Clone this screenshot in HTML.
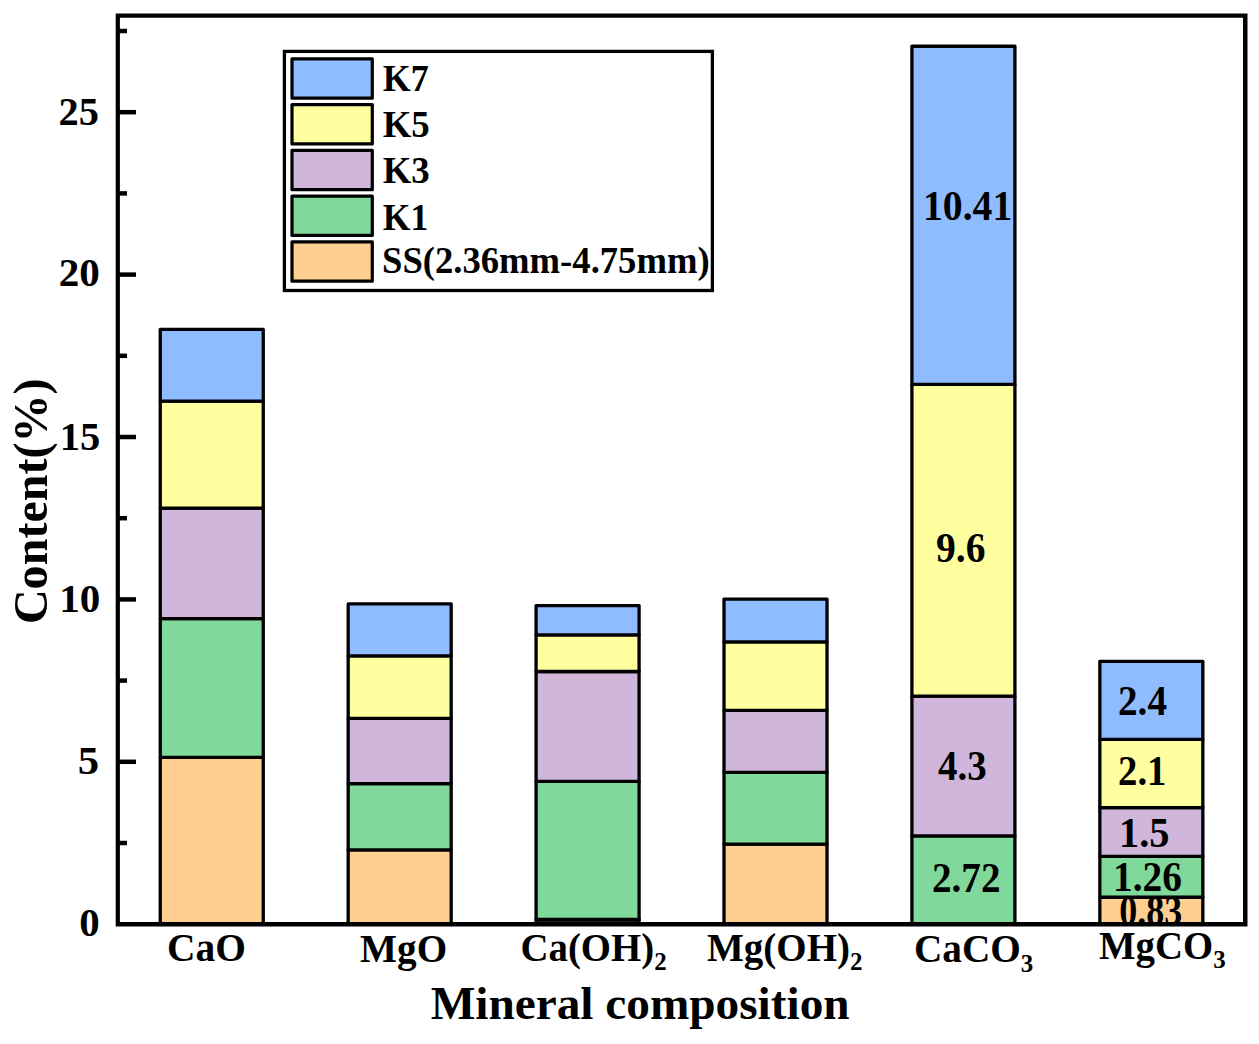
<!DOCTYPE html><html><head><meta charset="utf-8"><style>html,body{margin:0;padding:0;background:#fff;overflow:hidden;}svg{display:block;}text{font-family:"Liberation Serif",serif;font-weight:bold;fill:#000;}</style></head><body>
<svg width="1259" height="1044" viewBox="0 0 1259 1044">
<rect x="0" y="0" width="1259" height="1044" fill="#fff"/>
<rect x="160.26" y="757.42" width="103.00" height="166.78" fill="#FFCF91" stroke="#000" stroke-width="3.3" stroke-linejoin="round"/>
<rect x="160.26" y="618.56" width="103.00" height="138.85" fill="#80D99B" stroke="#000" stroke-width="3.3" stroke-linejoin="round"/>
<rect x="160.26" y="508.13" width="103.00" height="110.43" fill="#CFB6DA" stroke="#000" stroke-width="3.3" stroke-linejoin="round"/>
<rect x="160.26" y="401.11" width="103.00" height="107.02" fill="#FFFFA0" stroke="#000" stroke-width="3.3" stroke-linejoin="round"/>
<rect x="160.26" y="329.33" width="103.00" height="71.78" fill="#8EBCFF" stroke="#000" stroke-width="3.3" stroke-linejoin="round"/>
<rect x="348.18" y="849.82" width="103.00" height="74.38" fill="#FFCF91" stroke="#000" stroke-width="3.3" stroke-linejoin="round"/>
<rect x="348.18" y="783.72" width="103.00" height="66.10" fill="#80D99B" stroke="#000" stroke-width="3.3" stroke-linejoin="round"/>
<rect x="348.18" y="718.44" width="103.00" height="65.28" fill="#CFB6DA" stroke="#000" stroke-width="3.3" stroke-linejoin="round"/>
<rect x="348.18" y="655.92" width="103.00" height="62.52" fill="#FFFFA0" stroke="#000" stroke-width="3.3" stroke-linejoin="round"/>
<rect x="348.18" y="603.95" width="103.00" height="51.97" fill="#8EBCFF" stroke="#000" stroke-width="3.3" stroke-linejoin="round"/>
<rect x="536.09" y="919.33" width="103.00" height="4.87" fill="#2e1d12" stroke="#000" stroke-width="3.3" stroke-linejoin="round"/>
<rect x="536.09" y="781.45" width="103.00" height="137.88" fill="#80D99B" stroke="#000" stroke-width="3.3" stroke-linejoin="round"/>
<rect x="536.09" y="671.51" width="103.00" height="109.94" fill="#CFB6DA" stroke="#000" stroke-width="3.3" stroke-linejoin="round"/>
<rect x="536.09" y="634.80" width="103.00" height="36.70" fill="#FFFFA0" stroke="#000" stroke-width="3.3" stroke-linejoin="round"/>
<rect x="536.09" y="605.57" width="103.00" height="29.23" fill="#8EBCFF" stroke="#000" stroke-width="3.3" stroke-linejoin="round"/>
<rect x="724.01" y="844.14" width="103.00" height="80.06" fill="#FFCF91" stroke="#000" stroke-width="3.3" stroke-linejoin="round"/>
<rect x="724.01" y="772.36" width="103.00" height="71.78" fill="#80D99B" stroke="#000" stroke-width="3.3" stroke-linejoin="round"/>
<rect x="724.01" y="710.32" width="103.00" height="62.04" fill="#CFB6DA" stroke="#000" stroke-width="3.3" stroke-linejoin="round"/>
<rect x="724.01" y="641.95" width="103.00" height="68.37" fill="#FFFFA0" stroke="#000" stroke-width="3.3" stroke-linejoin="round"/>
<rect x="724.01" y="599.08" width="103.00" height="42.87" fill="#8EBCFF" stroke="#000" stroke-width="3.3" stroke-linejoin="round"/>
<rect x="911.92" y="835.85" width="103.00" height="88.35" fill="#80D99B" stroke="#000" stroke-width="3.3" stroke-linejoin="round"/>
<rect x="911.92" y="696.19" width="103.00" height="139.66" fill="#CFB6DA" stroke="#000" stroke-width="3.3" stroke-linejoin="round"/>
<rect x="911.92" y="384.38" width="103.00" height="311.81" fill="#FFFFA0" stroke="#000" stroke-width="3.3" stroke-linejoin="round"/>
<rect x="911.92" y="46.27" width="103.00" height="338.12" fill="#8EBCFF" stroke="#000" stroke-width="3.3" stroke-linejoin="round"/>
<rect x="1099.84" y="897.24" width="103.00" height="26.96" fill="#FFCF91" stroke="#000" stroke-width="3.3" stroke-linejoin="round"/>
<rect x="1099.84" y="856.32" width="103.00" height="40.92" fill="#80D99B" stroke="#000" stroke-width="3.3" stroke-linejoin="round"/>
<rect x="1099.84" y="807.60" width="103.00" height="48.72" fill="#CFB6DA" stroke="#000" stroke-width="3.3" stroke-linejoin="round"/>
<rect x="1099.84" y="739.39" width="103.00" height="68.21" fill="#FFFFA0" stroke="#000" stroke-width="3.3" stroke-linejoin="round"/>
<rect x="1099.84" y="661.44" width="103.00" height="77.95" fill="#8EBCFF" stroke="#000" stroke-width="3.3" stroke-linejoin="round"/>
<text id="bl0" x="923.03" y="220.15" font-size="41.80" textLength="89.23" lengthAdjust="spacingAndGlyphs">10.41</text>
<text id="bl1" x="936.01" y="562.45" font-size="41.80" textLength="49.49" lengthAdjust="spacingAndGlyphs">9.6</text>
<text id="bl2" x="938.01" y="780.40" font-size="41.80" textLength="48.58" lengthAdjust="spacingAndGlyphs">4.3</text>
<text id="bl3" x="932.04" y="892.40" font-size="41.80" textLength="68.43" lengthAdjust="spacingAndGlyphs">2.72</text>
<text id="bl4" x="1118.02" y="715.40" font-size="41.80" textLength="48.98" lengthAdjust="spacingAndGlyphs">2.4</text>
<text id="bl5" x="1118.04" y="785.20" font-size="41.80" textLength="48.41" lengthAdjust="spacingAndGlyphs">2.1</text>
<text id="bl6" x="1118.96" y="846.95" font-size="41.80" textLength="50.48" lengthAdjust="spacingAndGlyphs">1.5</text>
<text id="bl7" x="1113.01" y="891.15" font-size="41.80" textLength="68.89" lengthAdjust="spacingAndGlyphs">1.26</text>
<text id="bl8" x="1119.22" y="924.90" font-size="41.80" textLength="62.91" lengthAdjust="spacingAndGlyphs">0.83</text>
<path fill="#000" fill-rule="evenodd" d="M115.7 13.4 H1247.5 V926.6 H115.7 Z M119.9 17.8 V922.0 H1243.0 V17.8 Z"/>
<line x1="117.8" y1="761.80" x2="136" y2="761.80" stroke="#000" stroke-width="4.5"/>
<line x1="117.8" y1="599.40" x2="136" y2="599.40" stroke="#000" stroke-width="4.5"/>
<line x1="117.8" y1="437.00" x2="136" y2="437.00" stroke="#000" stroke-width="4.5"/>
<line x1="117.8" y1="274.60" x2="136" y2="274.60" stroke="#000" stroke-width="4.5"/>
<line x1="117.8" y1="112.20" x2="136" y2="112.20" stroke="#000" stroke-width="4.5"/>
<line x1="117.8" y1="843.00" x2="127" y2="843.00" stroke="#000" stroke-width="4.5"/>
<line x1="117.8" y1="680.60" x2="127" y2="680.60" stroke="#000" stroke-width="4.5"/>
<line x1="117.8" y1="518.20" x2="127" y2="518.20" stroke="#000" stroke-width="4.5"/>
<line x1="117.8" y1="355.80" x2="127" y2="355.80" stroke="#000" stroke-width="4.5"/>
<line x1="117.8" y1="193.40" x2="127" y2="193.40" stroke="#000" stroke-width="4.5"/>
<line x1="117.8" y1="31.00" x2="127" y2="31.00" stroke="#000" stroke-width="4.5"/>
<text id="t0" x="79.17" y="936.25" font-size="39.00" textLength="20.48" lengthAdjust="spacingAndGlyphs">0</text>
<text id="t5" x="77.75" y="773.60" font-size="39.00" textLength="21.34" lengthAdjust="spacingAndGlyphs">5</text>
<text id="t10" x="59.22" y="611.55" font-size="39.00" textLength="41.06" lengthAdjust="spacingAndGlyphs">10</text>
<text id="t15" x="59.69" y="449.75" font-size="39.00" textLength="40.56" lengthAdjust="spacingAndGlyphs">15</text>
<text id="t20" x="58.72" y="286.40" font-size="39.00" textLength="41.08" lengthAdjust="spacingAndGlyphs">20</text>
<text id="t25" x="58.46" y="124.85" font-size="39.00" textLength="40.39" lengthAdjust="spacingAndGlyphs">25</text>
<text id="xCaO" x="167.12" y="961.10" font-size="40.00" textLength="78.85" lengthAdjust="spacingAndGlyphs">CaO</text>
<text id="xMgO" x="360.08" y="962.25" font-size="40.00" textLength="87.02" lengthAdjust="spacingAndGlyphs">MgO</text>
<text id="xCaOH" x="520.50" y="960.50" font-size="40.00"><tspan font-size="40.00" textLength="133.67" lengthAdjust="spacingAndGlyphs">Ca(OH)</tspan><tspan font-size="25.00" dy="9.50">2</tspan></text>
<text id="xMgOH" x="707.00" y="960.50" font-size="40.00"><tspan font-size="40.00" textLength="142.98" lengthAdjust="spacingAndGlyphs">Mg(OH)</tspan><tspan font-size="25.00" dy="9.50">2</tspan></text>
<text id="xCaCO" x="913.95" y="962.10" font-size="40.00"><tspan font-size="40.00" textLength="106.88" lengthAdjust="spacingAndGlyphs">CaCO</tspan><tspan font-size="25.00" dy="9.50">3</tspan></text>
<text id="xMgCO" x="1099.00" y="958.90" font-size="40.00"><tspan font-size="40.00" textLength="114.17" lengthAdjust="spacingAndGlyphs">MgCO</tspan><tspan font-size="25.00" dy="9.50">3</tspan></text>
<text id="title" x="430.75" y="1018.95" font-size="46.50" textLength="418.81" lengthAdjust="spacingAndGlyphs">Mineral composition</text>
<text id="ytitle" transform="translate(46.95,624.12) rotate(-90)" font-size="48.00" textLength="245.72" lengthAdjust="spacingAndGlyphs">Content(%)</text>
<rect x="284.4" y="51.4" width="428.0" height="239.1" fill="#fff" stroke="#000" stroke-width="3.3"/>
<rect x="292" y="58.80" width="80.3" height="39.4" fill="#8EBCFF" stroke="#000" stroke-width="3.2" stroke-linejoin="round"/>
<text id="leg0" x="382.70" y="91.25" font-size="37.00" textLength="45.97" lengthAdjust="spacingAndGlyphs">K7</text>
<rect x="292" y="104.55" width="80.3" height="39.4" fill="#FFFFA0" stroke="#000" stroke-width="3.2" stroke-linejoin="round"/>
<text id="leg1" x="382.67" y="137.20" font-size="37.00" textLength="47.03" lengthAdjust="spacingAndGlyphs">K5</text>
<rect x="292" y="150.30" width="80.3" height="39.4" fill="#CFB6DA" stroke="#000" stroke-width="3.2" stroke-linejoin="round"/>
<text id="leg2" x="382.68" y="183.05" font-size="37.00" textLength="47.03" lengthAdjust="spacingAndGlyphs">K3</text>
<rect x="292" y="196.05" width="80.3" height="39.4" fill="#80D99B" stroke="#000" stroke-width="3.2" stroke-linejoin="round"/>
<text id="leg3" x="382.73" y="229.85" font-size="37.00" textLength="45.59" lengthAdjust="spacingAndGlyphs">K1</text>
<rect x="292" y="241.80" width="80.3" height="39.4" fill="#FFCF91" stroke="#000" stroke-width="3.2" stroke-linejoin="round"/>
<text id="leg4" x="382.02" y="272.65" font-size="37.00" textLength="327.66" lengthAdjust="spacingAndGlyphs">SS(2.36mm-4.75mm)</text>
</svg></body></html>
